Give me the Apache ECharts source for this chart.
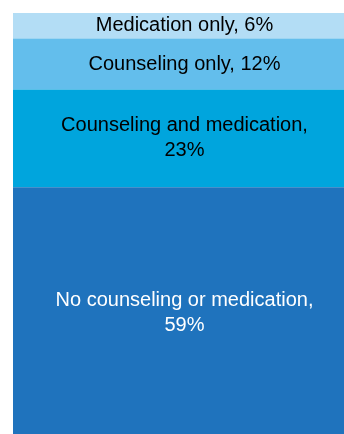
<!DOCTYPE html>
<html><head><meta charset="utf-8">
<script src="https://cdn.jsdelivr.net/npm/echarts@6/dist/echarts.min.js"></script>
<style>html,body{margin:0;padding:0;background:#fff}#c{width:344px;height:434px}</style>
</head><body><div id="c"></div>
<script>
const categories = ['Medication only', 'Counseling only', 'Counseling and medication', 'No counseling or medication'];
const values = [6, 12, 23, 59];
const wrapLabel = [false, false, true, true];
const colors = ['#b3ddf5', '#63beec', '#00a5dd', '#1f73bd'];
const textColors = ['#000', '#000', '#000', '#fff'];

const chart = echarts.init(document.getElementById('c'), null, {renderer: 'canvas'});
chart.setOption({
  animation: false,
  grid: {left: 13, top: 13, width: 343, height: 425, outerBoundsMode: 'none', containLabel: false},
  xAxis: {type: 'category', data: ['All'], show: false},
  yAxis: {type: 'value', min: 0, max: 100, inverse: true, show: false},
  series: categories.map((name, i) => ({
    name: name,
    type: 'bar',
    stack: 'total',
    barWidth: '100%',
    data: [values[i]],
    itemStyle: {color: colors[i]},
    label: {
      show: true,
      position: 'inside',
      color: textColors[i],
      fontFamily: '"Liberation Sans", Arial, sans-serif',
      fontSize: 20,
      lineHeight: 25,
      formatter: p => p.seriesName + ',' + (wrapLabel[i] ? '\n' : ' ') + p.value + '%'
    }
  }))
});
</script></body></html>
